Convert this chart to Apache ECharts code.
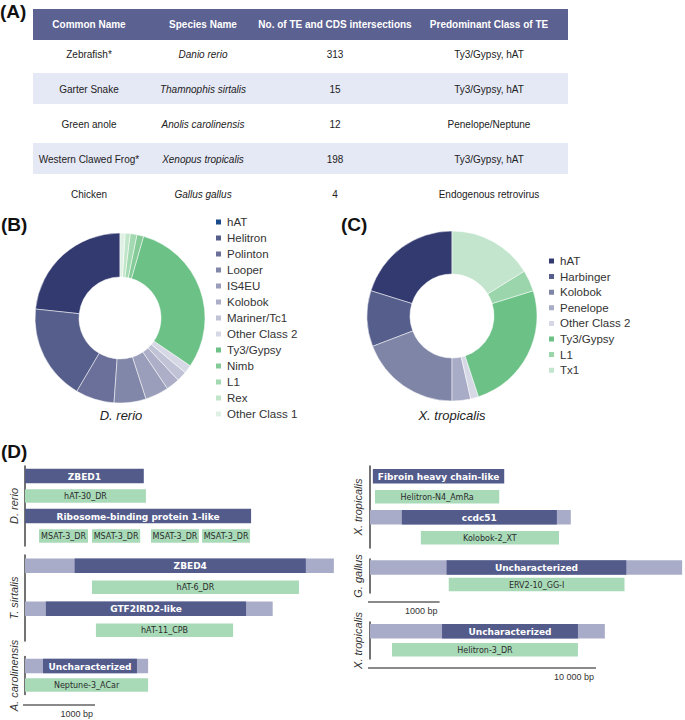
<!DOCTYPE html>
<html><head><meta charset="utf-8">
<script src="https://cdn.jsdelivr.net/npm/echarts@6.0.0/dist/echarts.min.js"></script>
<style>html,body{margin:0;padding:0;background:#fff}#c{width:685px;height:720px}</style>
</head><body><div id="c"></div>
<script>
// ---------- (A) table ----------
const tableHeaders = ['Common Name', 'Species Name', 'No. of TE and CDS intersections', 'Predominant Class of TE'];
const commonNames = ['Zebrafish*', 'Garter Snake', 'Green anole', 'Western Clawed Frog*', 'Chicken'];
const speciesNames = ['Danio rerio', 'Thamnophis sirtalis', 'Anolis carolinensis', 'Xenopus tropicalis', 'Gallus gallus'];
const teCdsCounts = [313, 15, 12, 198, 4];
const predominantClass = ['Ty3/Gypsy, hAT', 'Ty3/Gypsy, hAT', 'Penelope/Neptune', 'Ty3/Gypsy, hAT', 'Endogenous retrovirus'];

// ---------- (B) D. rerio TE classes ----------
const drerioClasses = ['hAT', 'Helitron', 'Polinton', 'Looper', 'IS4EU', 'Kolobok', 'Mariner/Tc1', 'Other Class 2', 'Ty3/Gypsy', 'Nimb', 'L1', 'Rex', 'Other Class 1'];
const drerioCounts = [73, 57, 23, 19, 14, 8, 6, 5, 94, 4, 4, 3, 3];

// ---------- (C) X. tropicalis TE classes ----------
const xtropClasses = ['hAT', 'Harbinger', 'Kolobok', 'Penelope', 'Other Class 2', 'Ty3/Gypsy', 'L1', 'Tx1'];
const xtropCounts = [40, 21, 38, 7, 3, 49, 8, 32];

const pieCaptions = ['D. rerio', 'X. tropicalis'];

// ---------- (D) gene / TE structures: [track, startBp, endBp, kind, label] ----------
const drerioTracks = ['ZBED1', 'hAT-30_DR', 'RBP1-like', 'MSAT-3_DR'];
const drerioFeatures = [
  [0, 0, 1650, 'cds', 'ZBED1'],
  [1, 0, 1680, 'te', 'hAT-30_DR'],
  [2, 0, 3140, 'cds', 'Ribosome-binding protein 1-like'],
  [3, 195, 875, 'te', 'MSAT-3_DR'],
  [3, 930, 1600, 'te', 'MSAT-3_DR'],
  [3, 1750, 2415, 'te', 'MSAT-3_DR'],
  [3, 2460, 3125, 'te', 'MSAT-3_DR']
];
const tsirtalisTracks = ['ZBED4', 'hAT-6_DR', 'GTF2IRD2-like', 'hAT-11_CPB'];
const tsirtalisFeatures = [
  [0, 0, 4290, 'utr', ''],
  [0, 690, 3900, 'cds', 'ZBED4'],
  [1, 930, 3805, 'te', 'hAT-6_DR'],
  [2, 0, 3440, 'utr', ''],
  [2, 290, 3070, 'cds', 'GTF2IRD2-like'],
  [3, 985, 2890, 'te', 'hAT-11_CPB']
];
const acarTracks = ['Uncharacterized', 'Neptune-3_ACar'];
const acarFeatures = [
  [0, 0, 1710, 'utr', ''],
  [0, 250, 1555, 'cds', 'Uncharacterized'],
  [1, 0, 1710, 'te', 'Neptune-3_ACar']
];
const xtrop1Tracks = ['Fibroin', 'Helitron-N4_AmRa', 'ccdc51', 'Kolobok-2_XT'];
const xtrop1Features = [
  [0, 40, 1875, 'cds', 'Fibroin heavy chain-like'],
  [1, 70, 1805, 'te', 'Helitron-N4_AmRa'],
  [2, 0, 2805, 'utr', ''],
  [2, 445, 2610, 'cds', 'ccdc51'],
  [3, 710, 2640, 'te', 'Kolobok-2_XT']
];
const ggallusTracks = ['Uncharacterized', 'ERV2-10_GG-I'];
const ggallusFeatures = [
  [0, 0, 4360, 'utr', ''],
  [0, 1070, 3580, 'cds', 'Uncharacterized'],
  [1, 1100, 3555, 'te', 'ERV2-10_GG-I']
];
const xtrop2Tracks = ['Uncharacterized', 'Helitron-3_DR'];
const xtrop2Features = [
  [0, 0, 10300, 'utr', ''],
  [0, 3160, 9120, 'cds', 'Uncharacterized'],
  [1, 965, 9120, 'te', 'Helitron-3_DR']
];
const scaleBarLengths = [1000, 1000, 10000];
const scaleBarLabels = ['1000 bp', '1000 bp', '10 000 bp'];

// ---------- styles ----------
const drerioSliceColors = ['#333a70', '#565e8c', '#6a7099', '#8187a8', '#9a9eba', '#acafc7', '#c0c2d5', '#d7d8e5', '#6cc187', '#84cb98', '#a3d9b1', '#c0e5c9', '#dff1e4'];
const drerioLegendColors = ['#1b4b8a'].concat(drerioSliceColors.slice(1));
const xtropSliceColors = ['#333a70', '#565e8c', '#7f85a6', '#a9acc6', '#d7d8e5', '#6cc187', '#9bd5ab', '#c3e5cd'];
const featureColors = { cds: '#535b8b', utr: '#a9acc8', te: '#a8dab8' };
const SANS = '"Liberation Sans", Arial, sans-serif';
const DJV = '"DejaVu Sans", Verdana, sans-serif';
const GENE_FONT = 'bold 9px ' + DJV;
const TE_FONT = '8px ' + DJV;

const chart = echarts.init(document.getElementById('c'), null, { renderer: 'svg' });

// table graphics
const colCenters = [89, 203, 335, 489];
const tableLeft = 33, tableWidth = 535, headerTop = 9, headerH = 31, rowH = 35, firstRowY = 54;
const graphics = [];
graphics.push({ type: 'rect', shape: { x: tableLeft, y: headerTop, width: tableWidth, height: headerH }, style: { fill: '#5b6191' } });
tableHeaders.forEach((h, j) => graphics.push({
  type: 'text', x: colCenters[j], y: headerTop + headerH / 2,
  style: { text: h, fill: '#fff', font: 'bold 10px ' + SANS, align: 'center', verticalAlign: 'middle' }
}));
commonNames.forEach((n, i) => {
  const cy = firstRowY + rowH * i;
  if (i % 2 === 1) graphics.push({ type: 'rect', shape: { x: tableLeft, y: cy - 16, width: tableWidth, height: 31 }, style: { fill: '#e5e8f5' } });
  const cells = [n, speciesNames[i], String(teCdsCounts[i]), predominantClass[i]];
  cells.forEach((t, j) => graphics.push({
    type: 'text', x: colCenters[j], y: cy,
    style: { text: t, fill: '#222', font: (j === 1 ? 'italic ' : '') + '10px ' + SANS, align: 'center', verticalAlign: 'middle' }
  }));
});
// panel letters
[['(A)', 0, 11], ['(B)', 1, 224], ['(C)', 341, 224], ['(D)', 1, 451]].forEach(p => graphics.push({
  type: 'text', x: p[1], y: p[2], style: { text: p[0], fill: '#111', font: 'bold 19px ' + SANS, align: 'left', verticalAlign: 'middle' }
}));
// pie captions
[[pieCaptions[0], 121, 415], [pieCaptions[1], 452, 415]].forEach(p => graphics.push({
  type: 'text', x: p[1], y: p[2], style: { text: p[0], fill: '#222', font: 'italic 13px ' + SANS, align: 'center', verticalAlign: 'middle' }
}));

// panel D grids
const groups = [
  { tracks: drerioTracks, features: drerioFeatures, name: 'D. rerio', left: 25, width: 324, max: 4500, top: 466, height: 80, offset: 2 },
  { tracks: tsirtalisTracks, features: tsirtalisFeatures, name: 'T. sirtalis', left: 25, width: 324, max: 4500, top: 555, height: 86, offset: 2 },
  { tracks: acarTracks, features: acarFeatures, name: 'A. carolinensis', left: 25, width: 324, max: 4500, top: 656.5, height: 38, offset: 2 },
  { tracks: xtrop1Tracks, features: xtrop1Features, name: 'X. tropicalis', left: 370, width: 316.8, max: 4400, top: 466, height: 82, offset: 3 },
  { tracks: ggallusTracks, features: ggallusFeatures, name: 'G. gallus', left: 370, width: 316.8, max: 4400, top: 559, height: 34, offset: 3 },
  { tracks: xtrop2Tracks, features: xtrop2Features, name: 'X. tropicalis', left: 370, width: 228, max: 10000, top: 622, height: 37, offset: 3 }
];
const scales = [
  { left: 25, width: 324, max: 4500, top: 698, height: 14 },
  { left: 370, width: 316.8, max: 4400, top: 595, height: 14 },
  { left: 370, width: 228, max: 10000, top: 661, height: 14 }
];

const grids = [], xAxes = [], yAxes = [], series = [];
groups.forEach((g, i) => {
  grids.push({ left: g.left, width: g.width, top: g.top, height: g.height, containLabel: false });
  xAxes.push({ type: 'value', gridIndex: i, min: 0, max: g.max, show: false });
  yAxes.push({
    type: 'category', gridIndex: i, data: g.tracks, inverse: true, offset: g.offset,
    axisLine: { show: true, lineStyle: { color: '#444', width: 1.5 } },
    axisTick: { show: false }, axisLabel: { show: false }, splitLine: { show: false },
    name: g.name, nameLocation: 'middle', nameRotate: 90, nameGap: 4,
    nameTextStyle: { fontStyle: 'italic', fontSize: 11, color: '#333', fontFamily: SANS }
  });
  const feats = g.features;
  series.push({
    type: 'custom', xAxisIndex: i, yAxisIndex: i,
    data: feats.map(f => [f[1], f[2], f[0]]),
    encode: { x: [0, 1], y: 2 },
    renderItem: function (params, api) {
      const f = feats[params.dataIndex];
      const a = api.coord([f[1], f[0]]), b = api.coord([f[2], f[0]]);
      const kind = f[3];
      const h = kind === 'te' ? 13.5 : 14.5;
      const children = [{ type: 'rect', shape: { x: a[0], y: a[1] - h / 2, width: b[0] - a[0], height: h }, style: { fill: featureColors[kind] } }];
      if (f[4]) children.push({
        type: 'text', x: (a[0] + b[0]) / 2, y: a[1] + 0.5,
        style: { text: f[4], fill: kind === 'te' ? '#2b2b2b' : '#fff', font: kind === 'te' ? TE_FONT : GENE_FONT, align: 'center', verticalAlign: 'middle' }
      });
      return { type: 'group', children: children };
    }
  });
});
scales.forEach((s, k) => {
  const i = groups.length + k;
  grids.push({ left: s.left, width: s.width, top: s.top, height: s.height });
  xAxes.push({ type: 'value', gridIndex: i, min: 0, max: s.max, show: false });
  yAxes.push({ type: 'category', gridIndex: i, data: ['scale'], show: false });
  series.push({
    type: 'custom', xAxisIndex: i, yAxisIndex: i,
    data: [[scaleBarLengths[k], 0]],
    encode: { x: 0, y: 1 },
    renderItem: function (params, api) {
      const a = api.coord([0, 0]), b = api.coord([api.value(0), 0]);
      return { type: 'group', children: [
        { type: 'line', shape: { x1: a[0] - 2, y1: a[1], x2: b[0] - 2, y2: b[1] }, style: { stroke: '#8a8a8a', lineWidth: 2 } },
        { type: 'text', x: b[0] - 4, y: a[1] + 9, style: { text: scaleBarLabels[k], fill: '#333', font: '9px ' + SANS, align: 'right', verticalAlign: 'middle' } }
      ] };
    }
  });
});

// pies
series.push({
  type: 'pie', center: [120, 318], radius: [41, 85], startAngle: 90, clockwise: false,
  label: { show: false }, labelLine: { show: false }, silent: true,
  itemStyle: { borderColor: '#fff', borderWidth: 0.5 },
  data: drerioClasses.map((n, i) => ({ name: n, value: drerioCounts[i], itemStyle: { color: drerioSliceColors[i] } }))
});
series.push({
  type: 'pie', center: [452, 316], radius: [42, 85], startAngle: 90, clockwise: false,
  label: { show: false }, labelLine: { show: false }, silent: true,
  itemStyle: { borderColor: '#fff', borderWidth: 0.5 },
  data: xtropClasses.map((n, i) => ({ name: n, value: xtropCounts[i], itemStyle: { color: xtropSliceColors[i] } }))
});

const legendText = { fontSize: 11.5, fontFamily: SANS, color: '#333', lineHeight: 12 };
chart.setOption({
  animation: false,
  backgroundColor: '#fff',
  graphic: { elements: graphics },
  grid: grids, xAxis: xAxes, yAxis: yAxes, series: series,
  legend: [
    { orient: 'vertical', left: 214, top: 216, padding: 0, itemWidth: 7, itemHeight: 7, itemGap: 4, icon: 'rect', selectedMode: false, textStyle: legendText,
      data: drerioClasses.map((n, i) => ({ name: n, itemStyle: { color: drerioLegendColors[i] } })) },
    { orient: 'vertical', left: 547, top: 255, padding: 0, itemWidth: 7, itemHeight: 7, itemGap: 3.6, icon: 'rect', selectedMode: false, textStyle: legendText,
      data: xtropClasses.map((n, i) => ({ name: n, itemStyle: { color: xtropSliceColors[i] } })) }
  ]
});
</script>
</body></html>
